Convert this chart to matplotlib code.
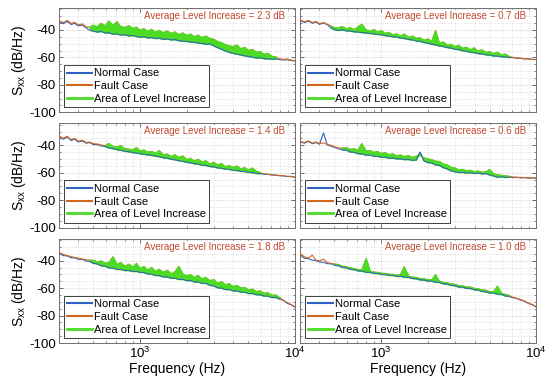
import matplotlib
matplotlib.use('Agg')
import matplotlib.pyplot as plt
from matplotlib.lines import Line2D
from matplotlib.ticker import FixedLocator, MultipleLocator, LogLocator, NullFormatter
import numpy as np

plt.rcParams['font.family'] = ['Liberation Sans', 'DejaVu Sans']
plt.rcParams['mathtext.fontset'] = 'custom'
plt.rcParams['mathtext.rm'] = 'Liberation Sans'
plt.rcParams['mathtext.it'] = 'Liberation Sans:italic'
plt.rcParams['mathtext.default'] = 'regular'
plt.rcParams['axes.unicode_minus'] = False

# frequency axis (Hz)
freq = [300, 320, 340, 360, 380, 400, 425, 450, 475, 500,
        530, 560, 600, 630, 670, 710, 750, 800, 850, 900,
        950, 1000, 1060, 1120, 1190, 1260, 1330, 1410, 1500, 1590,
        1680, 1780, 1890, 2000, 2120, 2240, 2370, 2510, 2660, 2820,
        2990, 3160, 3350, 3550, 3760, 3980, 4220, 4470, 4730, 5010,
        5310, 5620, 5960, 6310, 6680, 7080, 7500, 7940, 8410, 8910,
        9440, 10000]

# panel 1 (top left)
normal_1 = [-34.0, -35.5, -33.8, -36.0, -35.2, -37.0, -36.4, -38.5, -40.2, -40.8,
            -41.5, -41.0, -42.3, -42.0, -43.1, -42.8, -43.7, -43.4, -44.3, -44.0,
            -44.8, -45.2, -44.9, -45.8, -45.5, -46.2, -46.0, -46.8, -46.5, -47.2,
            -47.0, -47.8, -48.0, -48.3, -48.8, -49.0, -49.5, -49.8, -50.4, -50.2,
            -51.5, -52.8, -54.0, -55.3, -56.2, -57.0, -57.6, -58.2, -58.8, -59.3,
            -59.8, -60.4, -60.2, -60.9, -61.0, -61.3, -61.1, -61.6, -61.9, -61.7,
            -62.3, -62.6]
fault_1 = [-33.2, -34.6, -33.0, -35.2, -34.5, -36.3, -35.6, -37.8, -38.0, -36.5,
           -37.8, -35.2, -37.0, -33.5, -36.8, -34.0, -37.5, -38.2, -36.9, -39.0,
           -38.0, -40.2, -39.1, -41.0, -39.5, -41.8, -40.3, -42.0, -40.8, -42.6,
           -41.5, -43.4, -42.2, -44.0, -43.0, -45.0, -43.8, -45.6, -44.5, -46.2,
           -46.8, -48.5, -49.2, -50.8, -51.5, -52.2, -51.0, -53.8, -52.6, -55.0,
           -54.2, -56.3, -55.6, -57.8, -57.0, -59.2, -59.6, -61.0, -61.4, -61.2,
           -62.0, -62.4]

# panel 2 (top right)
normal_2 = [-33.0, -34.6, -33.5, -35.1, -34.3, -35.9, -35.0, -36.2, -38.6, -39.7,
            -40.3, -40.0, -40.6, -40.8, -41.3, -41.5, -41.9, -42.1, -42.6, -42.8,
            -43.3, -43.4, -44.1, -44.3, -45.0, -45.2, -45.9, -46.2, -46.9, -47.2,
            -47.9, -48.3, -49.1, -49.5, -50.4, -50.8, -51.6, -52.0, -52.8, -53.2,
            -54.0, -54.3, -55.1, -55.5, -56.2, -56.5, -57.2, -57.4, -58.1, -58.3,
            -58.9, -59.0, -59.5, -59.6, -60.1, -60.2, -60.6, -60.7, -61.1, -61.1,
            -61.5, -61.6]
fault_2 = [-32.6, -34.0, -33.0, -34.6, -33.8, -35.4, -34.6, -35.8, -37.2, -38.3,
           -38.6, -37.5, -39.2, -38.4, -39.8, -37.8, -35.8, -40.0, -40.9, -39.6,
           -41.6, -40.5, -42.5, -41.8, -43.6, -42.9, -44.4, -43.0, -45.4, -44.5,
           -46.0, -45.8, -47.5, -46.6, -48.3, -40.6, -49.6, -48.8, -50.8, -50.5,
           -52.2, -51.2, -53.4, -52.6, -54.5, -53.1, -55.6, -54.5, -56.4, -55.8,
           -57.3, -56.2, -58.1, -57.6, -59.3, -60.0, -60.4, -60.6, -61.0, -61.0,
           -61.4, -61.5]

# panel 3 (middle left)
normal_3 = [-33.8, -35.6, -34.0, -36.5, -35.6, -37.6, -36.8, -38.5, -38.0, -39.4,
            -39.5, -40.4, -41.0, -41.9, -42.4, -43.2, -43.5, -44.3, -44.7, -45.3,
            -45.5, -46.1, -46.4, -47.0, -47.2, -47.9, -48.3, -49.0, -49.4, -50.1,
            -50.5, -51.2, -51.6, -52.3, -52.7, -53.4, -53.7, -54.4, -54.7, -55.4,
            -55.7, -56.4, -56.7, -57.3, -57.5, -58.1, -58.3, -58.9, -59.1, -59.7,
            -59.9, -60.5, -60.6, -61.1, -61.2, -61.7, -61.8, -62.2, -62.3, -62.8,
            -62.8, -63.3]
fault_3 = [-33.2, -34.8, -33.5, -35.9, -35.0, -37.0, -36.3, -37.9, -37.6, -38.8,
           -39.0, -39.8, -40.2, -38.6, -40.9, -41.4, -40.2, -42.5, -42.8, -43.5,
           -41.6, -44.2, -43.4, -45.0, -44.5, -45.8, -43.9, -47.0, -46.4, -48.2,
           -46.9, -48.9, -47.8, -50.4, -49.6, -51.5, -50.2, -52.2, -51.3, -53.6,
           -52.4, -54.3, -53.3, -55.6, -54.8, -56.0, -55.1, -57.2, -56.3, -58.0,
           -56.6, -58.9, -59.9, -60.8, -61.0, -61.4, -61.6, -62.0, -62.1, -62.6,
           -62.6, -63.1]

# panel 4 (middle right)
normal_4 = [-37.5, -38.4, -37.2, -38.8, -38.0, -39.2, -31.0, -39.8, -40.6, -41.5,
            -42.5, -43.2, -43.6, -44.8, -45.1, -46.1, -46.2, -47.1, -47.1, -48.0,
            -48.0, -48.7, -48.7, -49.3, -49.2, -49.9, -49.8, -50.4, -50.3, -50.9,
            -50.7, -45.0, -51.4, -52.5, -52.8, -54.2, -54.6, -56.2, -57.1, -58.6,
            -59.2, -59.8, -59.6, -60.2, -59.9, -60.5, -60.2, -60.8, -60.5, -61.6,
            -62.3, -63.3, -62.8, -63.4, -63.1, -63.6, -63.3, -63.8, -63.5, -64.0,
            -63.7, -64.1]
fault_4 = [-37.0, -38.0, -36.8, -38.4, -37.5, -38.8, -38.2, -39.4, -40.0, -41.0,
           -42.0, -42.0, -41.8, -43.0, -42.5, -43.6, -38.8, -44.3, -43.9, -45.2,
           -44.6, -46.0, -45.4, -46.9, -46.2, -47.8, -47.0, -48.3, -47.5, -48.9,
           -48.0, -47.2, -49.2, -49.9, -50.5, -51.6, -51.8, -53.6, -54.2, -56.0,
           -56.6, -57.9, -57.5, -58.6, -58.2, -59.2, -58.8, -59.6, -59.4, -57.6,
           -60.8, -61.5, -61.9, -62.3, -62.6, -63.1, -63.3, -63.4, -63.5, -63.6,
           -63.7, -63.8]

# panel 5 (bottom left)
normal_5 = [-34.6, -36.3, -36.6, -37.9, -38.0, -39.0, -39.1, -40.3, -40.5, -41.9,
            -42.3, -43.6, -44.2, -45.3, -45.4, -46.4, -46.3, -47.2, -47.1, -47.9,
            -47.7, -48.5, -48.6, -49.7, -49.8, -50.8, -50.8, -51.8, -51.8, -52.8,
            -52.7, -53.7, -53.6, -54.5, -54.5, -55.5, -55.5, -56.5, -56.5, -57.9,
            -58.3, -59.7, -60.0, -61.0, -61.0, -62.0, -62.0, -62.9, -62.9, -63.9,
            -63.9, -64.8, -64.8, -65.8, -65.8, -66.8, -66.8, -67.9, -69.0, -71.1,
            -72.1, -73.9]
fault_5 = [-34.0, -35.4, -36.3, -37.0, -37.7, -38.1, -38.8, -39.4, -39.6, -39.8,
           -41.0, -40.2, -42.0, -41.3, -37.2, -42.8, -41.5, -44.0, -42.6, -44.8,
           -42.0, -45.6, -44.2, -46.8, -45.0, -47.9, -46.3, -48.5, -47.0, -49.6,
           -48.2, -44.2, -49.8, -51.0, -50.2, -52.3, -50.8, -53.4, -52.2, -54.6,
           -53.8, -56.5, -55.2, -57.6, -56.8, -58.9, -58.0, -60.0, -59.5, -61.3,
           -60.8, -62.5, -62.0, -63.8, -63.4, -65.2, -65.1, -66.8, -68.9, -70.5,
           -72.0, -73.5]

# panel 6 (bottom right)
normal_6 = [-35.8, -38.2, -38.6, -39.6, -40.0, -41.0, -41.2, -42.2, -42.3, -43.2,
            -43.6, -44.8, -45.2, -46.2, -46.5, -47.4, -47.6, -48.4, -48.5, -49.3,
            -49.3, -50.0, -50.0, -50.7, -50.7, -51.4, -51.3, -52.0, -52.1, -53.0,
            -53.1, -54.0, -54.1, -54.9, -54.9, -55.7, -55.8, -56.8, -57.0, -58.0,
            -58.2, -59.2, -59.3, -60.2, -60.2, -61.2, -61.4, -62.4, -62.6, -63.6,
            -63.6, -64.4, -64.6, -65.7, -66.0, -67.1, -67.5, -68.8, -69.6, -71.2,
            -72.1, -73.9]
fault_6 = [-35.0, -37.2, -38.1, -36.0, -39.6, -40.2, -38.9, -41.4, -42.0, -42.4,
           -42.9, -44.0, -44.6, -45.2, -45.8, -46.5, -46.9, -38.5, -47.8, -48.4,
           -48.6, -49.2, -49.3, -49.9, -50.0, -50.6, -50.5, -44.5, -51.4, -52.0,
           -52.3, -53.0, -53.2, -53.9, -54.1, -50.2, -55.0, -55.8, -56.1, -57.0,
           -57.3, -58.1, -58.4, -59.2, -59.3, -60.2, -60.5, -61.4, -61.6, -62.5,
           -62.7, -58.6, -63.8, -64.6, -65.3, -66.7, -67.5, -68.4, -69.6, -70.8,
           -72.1, -73.5]

# band of level increase (Hz) and average increase (dB) per panel
band_lo = [475, 475, 600, 560, 475, 500]
band_hi = [7500, 6680, 5960, 6680, 7940, 6680]
avg_increase = [2.3, 0.7, 1.4, 0.6, 1.8, 1.0]

normals = [normal_1, normal_2, normal_3, normal_4, normal_5, normal_6]
faults = [fault_1, fault_2, fault_3, fault_4, fault_5, fault_6]

c_normal = '#2f62c0'
c_fault = '#d0661f'
c_area = '#4cdc24'

fig, axes = plt.subplots(3, 2, figsize=(5.5, 3.9), dpi=100, sharex=True, sharey=True)
fig.subplots_adjust(left=0.107, right=0.975, bottom=0.1205, top=0.9795,
                    wspace=0.021, hspace=0.106)

f = np.array(freq)
for i, ax in enumerate(axes.flat):
    n = np.array(normals[i])
    fl = np.array(faults[i])
    inside = (f >= band_lo[i]) & (f <= band_hi[i])
    ax.plot(f, n, color=c_normal, lw=0.8, zorder=2)
    ax.plot(f, fl, color=c_fault, lw=0.8, zorder=3)
    ax.fill_between(f, n, fl, where=inside, color=c_area, lw=0.6, zorder=4)
    ax.plot(f[inside], fl[inside], color=c_area, lw=0.8, zorder=5)
    ax.plot(f[inside], n[inside], color=c_normal, lw=0.7, zorder=6)

    ax.set_xscale('log')
    ax.set_xlim(300, 10000)
    ax.set_ylim(-100, -24)
    ax.xaxis.set_major_locator(FixedLocator([1000, 10000]))
    ax.xaxis.set_minor_locator(LogLocator(base=10, subs=np.arange(2, 10)))
    ax.xaxis.set_minor_formatter(NullFormatter())
    ax.yaxis.set_major_locator(FixedLocator([-100, -80, -60, -40]))
    ax.yaxis.set_minor_locator(MultipleLocator(5))
    ax.grid(True, which='major', color='#b8b8b8', lw=0.5, ls=':')
    ax.grid(True, which='minor', color='#cfcfcf', lw=0.5, ls=':')
    ax.tick_params(which='both', direction='in', top=True, right=True,
                   colors='#555555', labelcolor='black', labelsize=9.5, pad=2)
    ax.tick_params(which='major', length=3, width=0.6)
    ax.tick_params(which='minor', length=1.5, width=0.5)
    for s in ax.spines.values():
        s.set_color('#707070')
        s.set_linewidth(0.7)

    ax.text(0.958, 0.925, 'Average Level Increase = %.1f dB' % avg_increase[i],
            transform=ax.transAxes, ha='right', va='center', fontsize=7,
            color='#c04a30', zorder=10,
            bbox=dict(facecolor='white', edgecolor='none', pad=0.5))

    handles = [Line2D([], [], color=c_normal, lw=1.5),
               Line2D([], [], color=c_fault, lw=1.5),
               Line2D([], [], color=c_area, lw=2)]
    leg = ax.legend(handles, ['Normal Case', 'Fault Case', 'Area of Level Increase'],
                    loc='lower left', fontsize=8, handlelength=2.2,
                    handletextpad=0.2, labelspacing=0.25, borderpad=0.3,
                    borderaxespad=0.45, fancybox=False, framealpha=1)
    leg.get_frame().set_edgecolor('#404040')
    leg.get_frame().set_linewidth(0.7)
    leg.set_zorder(20)

    if i % 2 == 0:
        ax.set_ylabel('S$_{xx}$ (dB/Hz)', fontsize=10, labelpad=1)
    if i >= 4:
        ax.set_xlabel('Frequency (Hz)', fontsize=10, labelpad=1)

plt.savefig('out.png', dpi=100)
